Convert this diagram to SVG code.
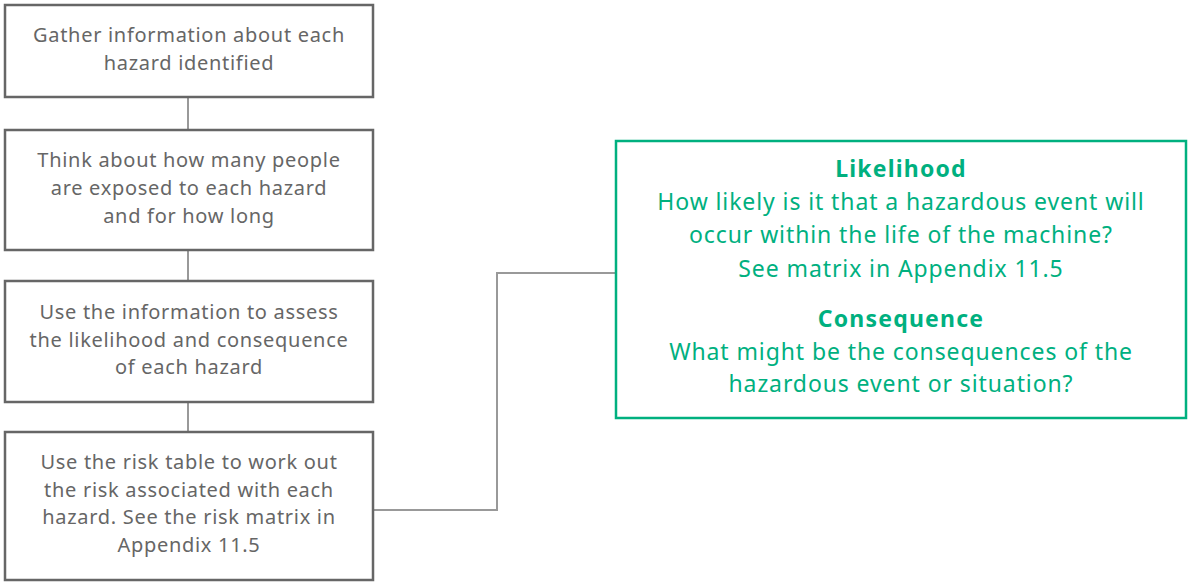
<svg xmlns="http://www.w3.org/2000/svg" width="1192" height="585" viewBox="0 0 1192 585">
<style>
.box{fill:#fff;stroke:#666;stroke-width:2.5}
.gbox{fill:#fff;stroke:#00b07f;stroke-width:2.5}
.t{font-family:"Noto Sans","Liberation Sans",sans-serif;font-size:20px;letter-spacing:0.7px;fill:#666;text-anchor:middle}
.g{font-family:"Noto Sans","Liberation Sans",sans-serif;font-size:23px;letter-spacing:0.9px;fill:#00b07f;text-anchor:middle}
.b{font-weight:bold;letter-spacing:1.2px}
.c{fill:none;stroke:#999;stroke-width:2}
</style>
<rect width="1192" height="585" fill="#fff"/>
<g id="connectors">
<line class="c" x1="188" y1="97" x2="188" y2="130"/>
<line class="c" x1="188" y1="250" x2="188" y2="281"/>
<line class="c" x1="188" y1="402" x2="188" y2="432"/>
<polyline class="c" points="373,510 497,510 497,273 616,273"/>
</g>
<g id="n1">
<rect class="box" x="5" y="5" width="368" height="92"/>
<text class="t" x="189" y="42">Gather information about each</text>
<text class="t" x="189" y="70">hazard identified</text>
</g>
<g id="n2">
<rect class="box" x="5" y="130" width="368" height="120"/>
<text class="t" x="189" y="167">Think about how many people</text>
<text class="t" x="189" y="195">are exposed to each hazard</text>
<text class="t" x="189" y="223">and for how long</text>
</g>
<g id="n3">
<rect class="box" x="5" y="281" width="368" height="121"/>
<text class="t" x="189" y="319">Use the information to assess</text>
<text class="t" x="189" y="347">the likelihood and consequence</text>
<text class="t" x="189" y="374">of each hazard</text>
</g>
<g id="n4">
<rect class="box" x="5" y="432" width="368" height="148"/>
<text class="t" x="189" y="469">Use the risk table to work out</text>
<text class="t" x="189" y="497">the risk associated with each</text>
<text class="t" x="189" y="524">hazard. See the risk matrix in</text>
<text class="t" x="189" y="552">Appendix 11.5</text>
</g>
<g id="n5">
<rect class="gbox" x="616" y="141" width="570" height="277"/>
<text class="g b" x="901" y="177">Likelihood</text>
<text class="g" x="901" y="210">How likely is it that a hazardous event will</text>
<text class="g" x="901" y="243">occur within the life of the machine?</text>
<text class="g" x="901" y="277">See matrix in Appendix 11.5</text>
<text class="g b" x="901" y="327">Consequence</text>
<text class="g" x="901" y="360">What might be the consequences of the</text>
<text class="g" x="901" y="392">hazardous event or situation?</text>
</g>
</svg>
